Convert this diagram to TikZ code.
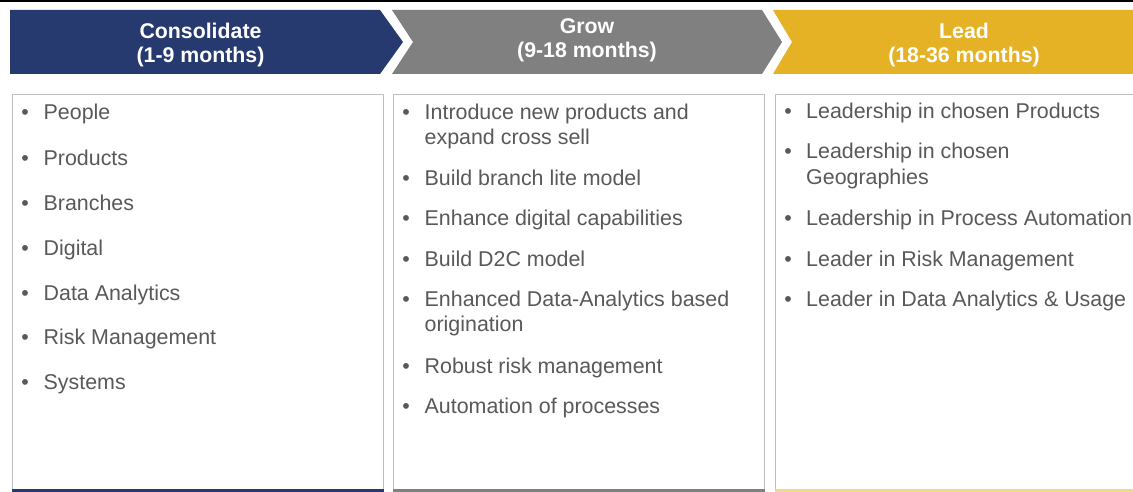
\documentclass[tikz,border=0pt]{standalone}
\usepackage{fontspec}
\setmainfont{Liberation Sans}
\definecolor{navy}{RGB}{38,58,112}
\definecolor{midgray}{RGB}{128,128,128}
\definecolor{gold}{RGB}{228,178,36}
\definecolor{lightgold}{RGB}{242,216,140}
\definecolor{boxline}{RGB}{191,191,191}
\definecolor{bodytext}{RGB}{89,89,89}
\tikzset{
  head/.style={anchor=base, inner sep=0pt, text=white, font=\fontsize{21.3}{24}\selectfont\bfseries},
  item/.style={anchor=base west, inner sep=0pt, text=bodytext, align=left, font=\fontsize{21.4}{25.5}\selectfont},
  bul/.style={anchor=base, inner sep=0pt, text=bodytext, font=\fontsize{21.4}{25.5}\selectfont},
  panel/.style={draw=boxline, line width=1pt, fill=white},
}
\begin{document}
\begin{tikzpicture}[x=1pt,y=-1pt]
\clip (0,0) rectangle (1133,492);
\useasboundingbox (0,0) rectangle (1133,492);
\fill[white] (0,0) rectangle (1133,492);
% top black line
\fill[black] (0,0) rectangle (1133,2.5);
% chevrons
\fill[navy] (10,10) -- (380,10) -- (403,42) -- (380,74) -- (10,74) -- cycle;
\fill[midgray] (392,10) -- (762,10) -- (782,42) -- (762,74) -- (392,74) -- (413,42) -- cycle;
\fill[gold] (773,10) -- (1140,10) -- (1140,74) -- (773,74) -- (792,42) -- cycle;
\node[head] (h1a) at (200.5,39) {Consolidate};
\node[head] (h1b) at (200.5,63) {(1-9 months)};
\node[head] (h2a) at (587,34) {Grow};
\node[head] (h2b) at (587,58) {(9-18 months)};
\node[head] (h3a) at (964,39) {Lead};
\node[head] (h3b) at (964,63) {(18-36 months)};
% panels
\draw[panel] (12.5,94.5) rectangle (383,495);
\draw[panel] (393,94.5) rectangle (764,495);
\draw[panel] (775,94.5) rectangle (1140,495);
\fill[navy] (12,489) rectangle (383.5,492);
\fill[midgray] (392.5,489) rectangle (764.5,492);
\fill[lightgold] (774.5,489) rectangle (1133,492);
% column 1
\foreach \y/\t [count=\i] in {120/People,165/Products,210/Branches,255/Digital,300/Data Analytics,344/Risk Management,389/Systems}{
  \node[bul] (b1\i) at (25,\y) {•};
  \node[item] (t1\i) at (43.5,\y) {\t};
}
% column 2 (two-line items: base anchor is the last line)
\node[bul] (b21) at (406,119.5) {•};
\node[item] (t21) at (424.5,145) {Introduce new products and\\expand cross sell};
\node[bul] (b22) at (406,185.5) {•};
\node[item] (t22) at (424.5,185.5) {Build branch lite model};
\node[bul] (b23) at (406,225.5) {•};
\node[item] (t23) at (424.5,225.5) {Enhance digital capabilities};
\node[bul] (b24) at (406,266) {•};
\node[item] (t24) at (424.5,266) {Build D2C model};
\node[bul] (b25) at (406,306) {•};
\node[item] (t25) at (424.5,331.5) {Enhanced Data-Analytics based\\origination};
\node[bul] (b26) at (406,373) {•};
\node[item] (t26) at (424.5,373) {Robust risk management};
\node[bul] (b27) at (406,413) {•};
\node[item] (t27) at (424.5,413) {Automation of processes};
% column 3
\node[bul] (b31) at (788,119) {•};
\node[item] (t31) at (806,119) {Leadership in chosen Products};
\node[bul] (b32) at (788,159) {•};
\node[item] (t32) at (806,184.5) {Leadership in chosen\\Geographies};
\node[bul] (b33) at (788,225) {•};
\node[item] (t33) at (806,225) {Leadership in Process Automation};
\node[bul] (b34) at (788,266) {•};
\node[item] (t34) at (806,266) {Leader in Risk Management};
\node[bul] (b35) at (788,306) {•};
\node[item] (t35) at (806,306) {Leader in Data Analytics \& Usage};
\end{tikzpicture}
\end{document}
